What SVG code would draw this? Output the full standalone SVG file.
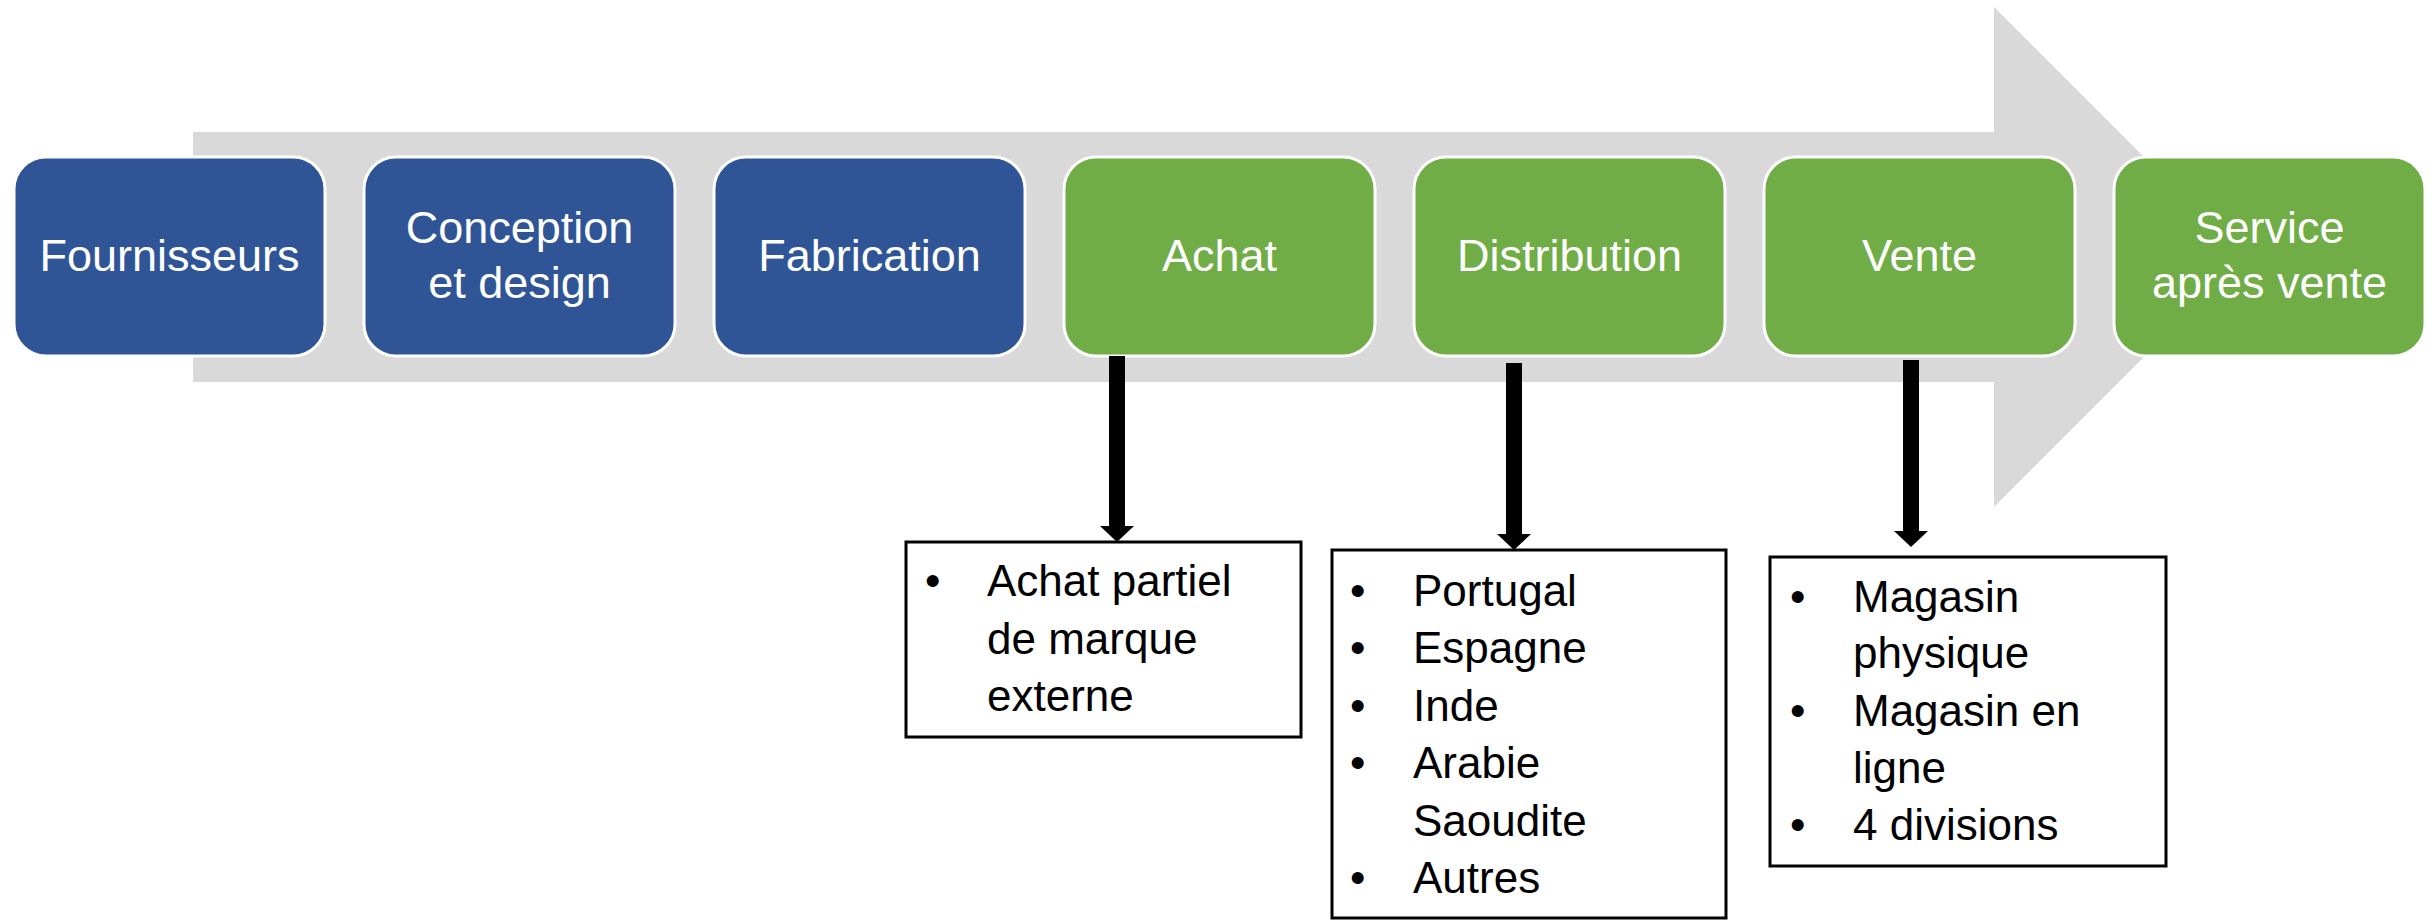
<svg xmlns="http://www.w3.org/2000/svg" width="2435" height="920" viewBox="0 0 2435 920">
<style>
.step{stroke:#fff;stroke-width:3}
.blue{fill:#2F5597}
.green{fill:#70AD47}
.lbl{font-family:"Liberation Sans",Arial,sans-serif;font-size:45px;fill:#fff;text-anchor:middle}
.list{fill:#fff;stroke:#000;stroke-width:3}
.txt{font-family:"Liberation Sans",Arial,sans-serif;font-size:44px;fill:#000}
.conn{stroke:#000;stroke-width:16;fill:none}
.head{fill:#000}
</style>
<rect width="2435" height="920" fill="#fff"/>
<g id="flow-arrow">
<polygon points="193,132 1994,132 1994,7 2244,257 1994,507 1994,382 193,382" fill="#D9D9D9"/>
</g>
<g id="fournisseurs"><rect class="step blue" x="14" y="157" width="311" height="199" rx="32"/><text class="lbl" x="169.5" y="271">Fournisseurs</text></g>
<g id="conception"><rect class="step blue" x="364" y="157" width="311" height="199" rx="32"/><text class="lbl" x="519.5" y="243">Conception</text><text class="lbl" x="519.5" y="298">et design</text></g>
<g id="fabrication"><rect class="step blue" x="714" y="157" width="311" height="199" rx="32"/><text class="lbl" x="869.5" y="271">Fabrication</text></g>
<g id="achat"><rect class="step green" x="1064" y="157" width="311" height="199" rx="32"/><text class="lbl" x="1219.5" y="271">Achat</text></g>
<g id="distribution"><rect class="step green" x="1414" y="157" width="311" height="199" rx="32"/><text class="lbl" x="1569.5" y="271">Distribution</text></g>
<g id="vente"><rect class="step green" x="1764" y="157" width="311" height="199" rx="32"/><text class="lbl" x="1919.5" y="271">Vente</text></g>
<g id="service"><rect class="step green" x="2114" y="157" width="311" height="199" rx="32"/><text class="lbl" x="2269.5" y="243">Service</text><text class="lbl" x="2269.5" y="298">après vente</text></g>
<g id="connectors">
<line class="conn" x1="1117" y1="356" x2="1117" y2="528"/>
<polygon class="head" points="1100,526 1134,526 1117,542"/>
<line class="conn" x1="1514" y1="363" x2="1514" y2="536"/>
<polygon class="head" points="1497,534 1531,534 1514,550"/>
<line class="conn" x1="1911" y1="360" x2="1911" y2="533"/>
<polygon class="head" points="1894,531 1928,531 1911,547"/>
</g>
<g id="achat-details">
<rect class="list" x="906" y="542" width="395" height="195"/>
<text class="txt" x="925" y="596">•</text><text class="txt" x="987" y="596">Achat partiel</text>
<text class="txt" x="987" y="654">de marque</text>
<text class="txt" x="987" y="711">externe</text>
</g>
<g id="distribution-details">
<rect class="list" x="1332" y="550" width="394" height="368"/>
<text class="txt" x="1350" y="606">•</text><text class="txt" x="1413" y="606">Portugal</text>
<text class="txt" x="1350" y="663">•</text><text class="txt" x="1413" y="663">Espagne</text>
<text class="txt" x="1350" y="721">•</text><text class="txt" x="1413" y="721">Inde</text>
<text class="txt" x="1350" y="778">•</text><text class="txt" x="1413" y="778">Arabie</text>
<text class="txt" x="1413" y="836">Saoudite</text>
<text class="txt" x="1350" y="893">•</text><text class="txt" x="1413" y="893">Autres</text>
</g>
<g id="vente-details">
<rect class="list" x="1770" y="557" width="396" height="309"/>
<text class="txt" x="1790" y="612">•</text><text class="txt" x="1853" y="612">Magasin</text>
<text class="txt" x="1853" y="668">physique</text>
<text class="txt" x="1790" y="726">•</text><text class="txt" x="1853" y="726">Magasin en</text>
<text class="txt" x="1853" y="783">ligne</text>
<text class="txt" x="1790" y="840">•</text><text class="txt" x="1853" y="840">4 divisions</text>
</g>
</svg>
